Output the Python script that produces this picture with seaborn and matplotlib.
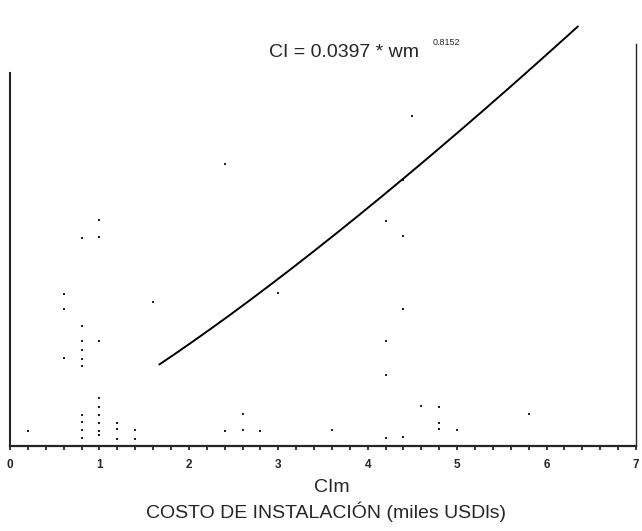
import numpy as np
import pandas as pd
import matplotlib as mpl
mpl.use('Agg')
import matplotlib.pyplot as plt
import seaborn as sns
from matplotlib.ticker import MultipleLocator

sns.set_style('ticks')
mpl.rcParams['font.family'] = ['Liberation Sans', 'DejaVu Sans']
mpl.rcParams['xtick.direction'] = 'out'

# observed points: installation cost (thousand USD) vs wm
ci_obs = [0.2,
          0.6, 0.6, 0.6,
          0.8, 0.8, 0.8, 0.8, 0.8, 0.8, 0.8, 0.8, 0.8, 0.8,
          1.0, 1.0, 1.0, 1.0, 1.0, 1.0, 1.0, 1.0, 1.0,
          1.2, 1.2, 1.2,
          1.4, 1.4,
          1.6,
          2.4, 2.4,
          2.6, 2.6,
          2.8,
          3.0,
          3.6,
          4.2, 4.2, 4.2, 4.2,
          4.4, 4.4, 4.4, 4.4,
          4.5,
          4.6,
          4.8, 4.8, 4.8,
          5.0,
          5.8]
wm_obs = [18,
          183, 165, 106,
          251, 145, 126, 116, 105, 96, 37, 29, 19, 10,
          272, 252, 126, 58, 47, 37, 28, 18, 13,
          28, 20, 9,
          19, 8,
          174,
          340, 18,
          38, 19,
          18,
          184,
          19,
          271, 126, 86, 10,
          321, 253, 165, 11,
          398,
          48,
          47, 28, 20,
          19,
          39]

# fitted model shown on the chart: CI = 0.0397 * wm ^ 0.8152
coef = 0.0397
expo = 0.8152
ci_start, ci_end = 1.67, 6.35

obs = pd.DataFrame({'CI': ci_obs, 'wm': wm_obs})
ci_fit = np.linspace(ci_start, ci_end, 200)
fit = pd.DataFrame({'CI': ci_fit, 'wm': (ci_fit / coef) ** (1 / expo)})

W, H = 642, 531
fig = plt.figure(figsize=(W / 100, H / 100), dpi=100)
fig.patch.set_facecolor('white')
ax = fig.add_axes([10 / W, 1 - 446 / H, 626 / W, 440 / H])

sns.scatterplot(data=obs, x='CI', y='wm', ax=ax, marker='s', s=3,
                color='#222222', linewidth=0)
sns.lineplot(data=fit, x='CI', y='wm', ax=ax, color='black', linewidth=1.4)

ax.set_xlim(0, 7)
ax.set_ylim(0, 530)
ax.xaxis.set_major_locator(MultipleLocator(1))
ax.xaxis.set_minor_locator(MultipleLocator(0.2))
ax.tick_params(axis='x', which='both', length=3, width=1.3, pad=6,
               labelsize=8.5)
for lab in ax.get_xticklabels():
    lab.set_fontweight('bold')
ax.set_yticks([])
ax.set_xlabel('')
ax.set_ylabel('')

ax.spines['top'].set_visible(False)
ax.spines['bottom'].set_linewidth(1.6)
ax.spines['left'].set_linewidth(1.5)
ax.spines['left'].set_bounds(0, 449)
ax.spines['right'].set_linewidth(1.0)
ax.spines['right'].set_bounds(0, 484)

fig.text(269 / W, 1 - 57 / H, 'CI = 0.0397 * wm', fontsize=14,
         ha='left', va='baseline')
fig.text(433 / W, 1 - 45 / H, '0.8152', fontsize=6.5,
         ha='left', va='baseline')

fig.text(332 / W, 1 - 487 / H, 'CIm', fontsize=14, ha='center', va='center')
fig.text(326 / W, 1 - 512 / H, 'COSTO DE INSTALACIÓN (miles USDls)',
         fontsize=14, ha='center', va='center')

fig.savefig('out.png', dpi=100, facecolor='white')
